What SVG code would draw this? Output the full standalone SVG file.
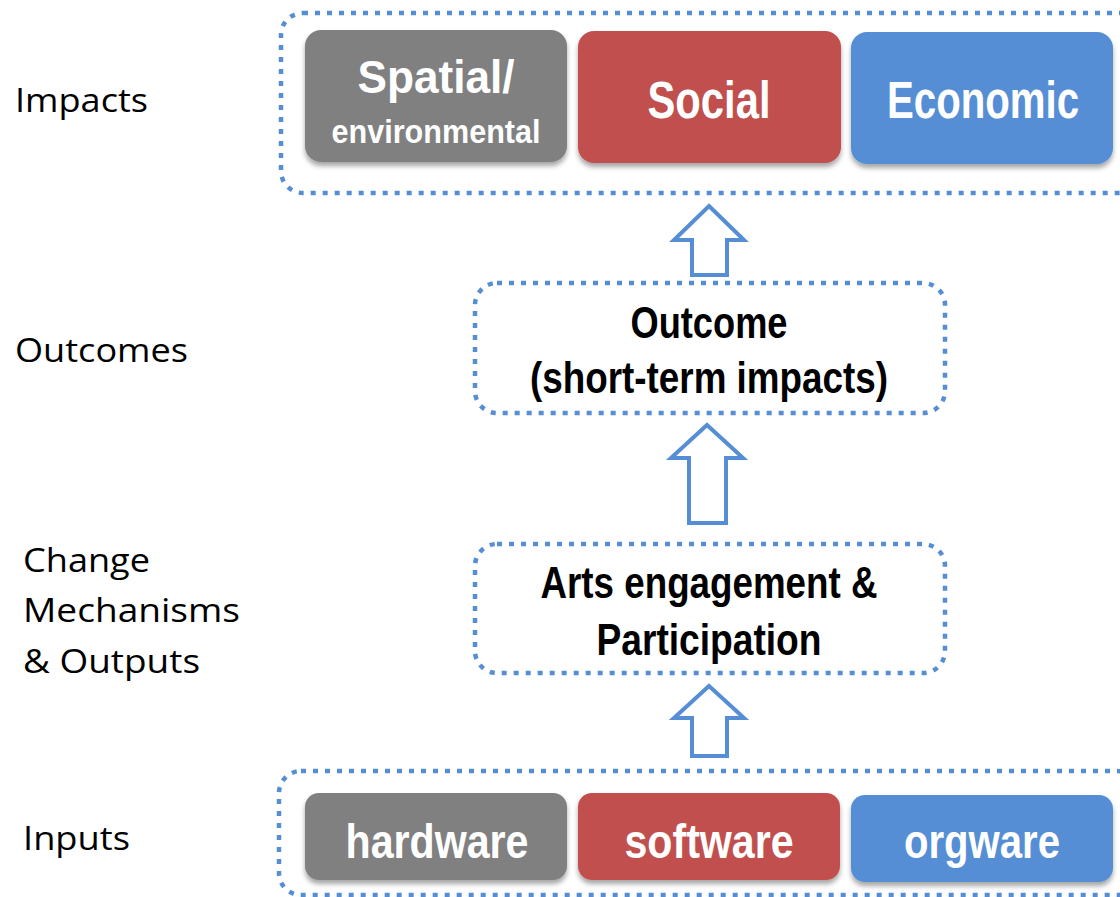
<svg xmlns="http://www.w3.org/2000/svg" width="1120" height="897" viewBox="0 0 1120 897">
<defs>
<filter id="sh" x="-10%" y="-10%" width="120%" height="130%">
<feDropShadow dx="0" dy="4" stdDeviation="2.5" flood-color="#000" flood-opacity="0.35"/>
</filter>
</defs>
<style>
.dot{fill:none;stroke:#558ED5;stroke-width:4.5;stroke-dasharray:5 7}
.arrow{fill:#fff;stroke:#558ED5;stroke-width:4}
.lbl{font-family:"Open Sans","Liberation Sans",sans-serif;font-size:32px;fill:#000}
.bx{font-family:"Liberation Sans",Arial,sans-serif;font-weight:bold;fill:#fff;text-anchor:middle}
.bt{font-family:"Liberation Sans",Arial,sans-serif;font-weight:bold;fill:#000;text-anchor:middle}
.gray{fill:#808080}
.red{fill:#C0504D}
.blue{fill:#558ED5}
</style>
<rect width="1120" height="897" fill="#fff"/>

<g id="labels">
<text class="lbl" x="15" y="112" textLength="133" lengthAdjust="spacingAndGlyphs">Impacts</text>
<text class="lbl" x="15" y="362" textLength="173" lengthAdjust="spacingAndGlyphs">Outcomes</text>
<text class="lbl" x="23" y="572" textLength="127" lengthAdjust="spacingAndGlyphs">Change</text>
<text class="lbl" x="23" y="622" textLength="217" lengthAdjust="spacingAndGlyphs">Mechanisms</text>
<text class="lbl" x="23" y="673" textLength="177" lengthAdjust="spacingAndGlyphs">&amp; Outputs</text>
<text class="lbl" x="23" y="850" textLength="107" lengthAdjust="spacingAndGlyphs">Inputs</text>
</g>

<g id="impacts">
<rect class="dot" x="281" y="13" width="860" height="180" rx="22"/>
<g id="spatial">
<rect class="gray" x="305" y="30" width="262" height="132" rx="16" filter="url(#sh)"/>
<text class="bx" x="436" y="93" font-size="46" textLength="157" lengthAdjust="spacingAndGlyphs">Spatial/</text>
<text class="bx" x="436" y="143" font-size="34" textLength="209" lengthAdjust="spacingAndGlyphs">environmental</text>
</g>
<g id="social">
<rect class="red" x="578" y="31" width="263" height="132" rx="16" filter="url(#sh)"/>
<text class="bx" x="709" y="118" font-size="51" textLength="123" lengthAdjust="spacingAndGlyphs">Social</text>
</g>
<g id="economic">
<rect class="blue" x="851" y="32" width="262" height="132" rx="16" filter="url(#sh)"/>
<text class="bx" x="983" y="118" font-size="51" textLength="192" lengthAdjust="spacingAndGlyphs">Economic</text>
</g>
</g>

<g id="outcome">
<rect class="dot" x="475" y="283" width="470" height="130" rx="22"/>
<text class="bt" x="709" y="338" font-size="44" textLength="157" lengthAdjust="spacingAndGlyphs">Outcome</text>
<text class="bt" x="709" y="393" font-size="44" textLength="358" lengthAdjust="spacingAndGlyphs">(short-term impacts)</text>
</g>

<g id="arts">
<rect class="dot" x="475" y="544" width="470" height="129" rx="22"/>
<text class="bt" x="709" y="598" font-size="44" textLength="337" lengthAdjust="spacingAndGlyphs">Arts engagement &amp;</text>
<text class="bt" x="709" y="655" font-size="44" textLength="225" lengthAdjust="spacingAndGlyphs">Participation</text>
</g>

<g id="inputs">
<rect class="dot" x="279" y="771" width="860" height="124" rx="22"/>
<g id="hardware">
<rect class="gray" x="305" y="793" width="262" height="87" rx="14" filter="url(#sh)"/>
<text class="bx" x="437" y="858" font-size="48" textLength="183" lengthAdjust="spacingAndGlyphs">hardware</text>
</g>
<g id="software">
<rect class="red" x="578" y="793" width="262" height="87" rx="14" filter="url(#sh)"/>
<text class="bx" x="709" y="858" font-size="48" textLength="169" lengthAdjust="spacingAndGlyphs">software</text>
</g>
<g id="orgware">
<rect class="blue" x="851" y="795" width="262" height="87" rx="14" filter="url(#sh)"/>
<text class="bx" x="982" y="858" font-size="48" textLength="156" lengthAdjust="spacingAndGlyphs">orgware</text>
</g>
</g>

<g id="connectors">
<polygon class="arrow" points="709,206 744,240 727,240 727,275 692,275 692,240 674,240"/>
<polygon class="arrow" points="707,425 743,458 726,458 726,523 689,523 689,458 671,458"/>
<polygon class="arrow" points="709,686 744,718 727,718 727,756 692,756 692,718 674,718"/>
</g>
</svg>
